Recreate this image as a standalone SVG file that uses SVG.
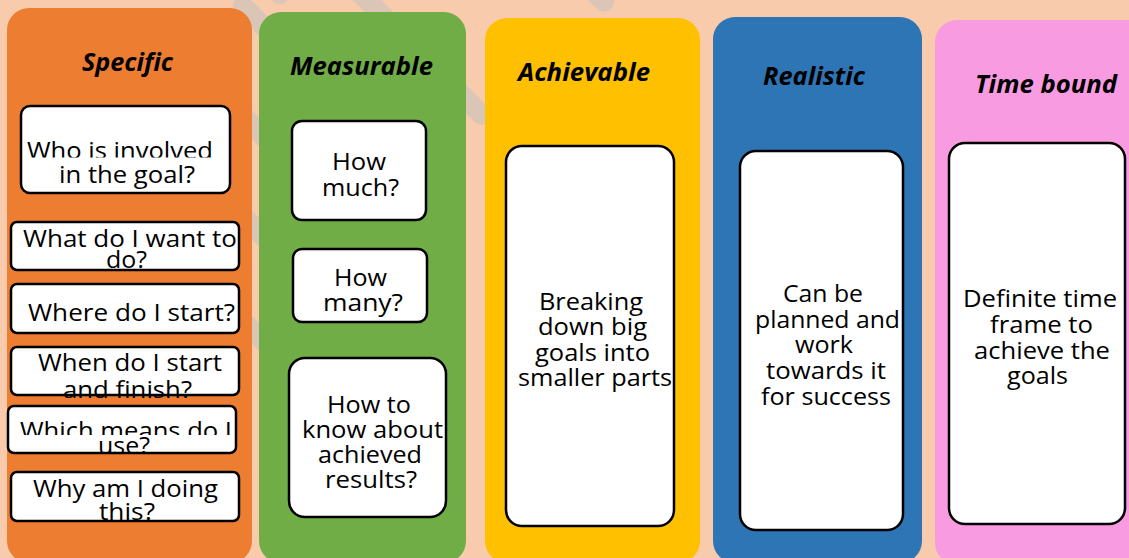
<svg xmlns="http://www.w3.org/2000/svg" width="1129" height="558" viewBox="0 0 1129 558">
<defs>
<style>
.bg{fill:#F8CBAD}
.wm{stroke:#DBC5B6;stroke-width:20;stroke-linecap:round;fill:none}
.col{stroke:none}
.box{fill:#FFFFFF;stroke:#000000;stroke-width:2.5}
.title{font-family:"Open Sans","Noto Sans","Liberation Sans",sans-serif;font-size:25.5px;font-weight:bold;font-style:italic;fill:#000;text-anchor:middle}
.t{font-family:"Open Sans","Noto Sans","Liberation Sans",sans-serif;font-size:24px;fill:#000;text-anchor:middle}
</style>
<clipPath id="cWho"><rect x="0" y="0" width="300" height="157.5"/></clipPath>
<clipPath id="cFinish"><rect x="0" y="300" width="300" height="98"/></clipPath>
<clipPath id="cWhich"><rect x="0" y="400" width="300" height="35"/></clipPath>
<clipPath id="cUse"><rect x="0" y="436" width="300" height="19"/></clipPath>
</defs>
<rect class="bg" x="0" y="0" width="1129" height="558"/>
<g id="watermark">
<line class="wm" x1="243" y1="6" x2="320" y2="83"/>
<line class="wm" x1="240" y1="-42" x2="280" y2="-6"/>
<line class="wm" x1="345" y1="-22" x2="482" y2="115"/>
<line class="wm" x1="560" y1="-42" x2="604" y2="2"/>
<line class="wm" x1="230" y1="103" x2="280" y2="153"/>
<line class="wm" x1="230" y1="203" x2="280" y2="253"/>
<line class="wm" x1="230" y1="308" x2="280" y2="358"/>
</g>
<g id="col-specific">
<rect class="col" x="7" y="8" width="245" height="555" rx="22" fill="#ED7D31"/>
<text class="title" x="127.5" y="71" textLength="91" lengthAdjust="spacingAndGlyphs">Specific</text>
</g>
<g id="col-measurable">
<rect class="col" x="259" y="12" width="207" height="551" rx="22" fill="#70AD47"/>
<text class="title" x="361.5" y="75" textLength="143" lengthAdjust="spacingAndGlyphs">Measurable</text>
</g>
<g id="col-achievable">
<rect class="col" x="485" y="18" width="215" height="545" rx="22" fill="#FFC000"/>
<text class="title" x="584" y="81" textLength="132" lengthAdjust="spacingAndGlyphs">Achievable</text>
</g>
<g id="col-realistic">
<rect class="col" x="713" y="17" width="209" height="546" rx="22" fill="#2E75B6"/>
<text class="title" x="814" y="85" textLength="102" lengthAdjust="spacingAndGlyphs">Realistic</text>
</g>
<g id="col-timebound">
<rect class="col" x="935" y="20" width="220" height="545" rx="22" fill="#F99BE0"/>
<text class="title" x="1046" y="93" textLength="142" lengthAdjust="spacingAndGlyphs">Time bound</text>
</g>
<g id="connectors"/>
<g id="s-who">
<rect class="box" x="21" y="106" width="209" height="87" rx="9"/>
<text class="t" x="120" y="159" textLength="186" lengthAdjust="spacingAndGlyphs" clip-path="url(#cWho)">Who is involved</text>
<text class="t" x="127" y="183" textLength="136" lengthAdjust="spacingAndGlyphs">in the goal?</text>
</g>
<g id="s-what">
<rect class="box" x="11" y="222" width="228" height="48" rx="6"/>
<text class="t" x="130" y="247" textLength="214" lengthAdjust="spacingAndGlyphs">What do I want to</text>
<text class="t" x="126.5" y="268" textLength="41" lengthAdjust="spacingAndGlyphs">do?</text>
</g>
<g id="s-where">
<rect class="box" x="11" y="284" width="228" height="49" rx="6"/>
<text class="t" x="131.5" y="321" textLength="207" lengthAdjust="spacingAndGlyphs">Where do I start?</text>
</g>
<g id="s-when">
<rect class="box" x="11" y="347" width="228" height="48" rx="6"/>
<text class="t" x="130" y="371" textLength="184" lengthAdjust="spacingAndGlyphs">When do I start</text>
<text class="t" x="127.5" y="398" textLength="129" lengthAdjust="spacingAndGlyphs" clip-path="url(#cFinish)">and finish?</text>
</g>
<g id="s-which">
<rect class="box" x="8" y="406" width="228" height="47" rx="6"/>
<text class="t" x="126" y="439" textLength="212" lengthAdjust="spacingAndGlyphs" clip-path="url(#cWhich)">Which means do I</text>
<text class="t" x="124" y="454" textLength="52" lengthAdjust="spacingAndGlyphs" clip-path="url(#cUse)">use?</text>
</g>
<g id="s-why">
<rect class="box" x="11" y="472" width="228" height="49" rx="6"/>
<text class="t" x="125.5" y="497" textLength="185" lengthAdjust="spacingAndGlyphs">Why am I doing</text>
<text class="t" x="127" y="520" textLength="56" lengthAdjust="spacingAndGlyphs">this?</text>
</g>
<g id="m-much">
<rect class="box" x="292" y="121" width="134" height="99" rx="10"/>
<text class="t" x="359" y="170" textLength="54" lengthAdjust="spacingAndGlyphs">How</text>
<text class="t" x="360.5" y="196" textLength="77" lengthAdjust="spacingAndGlyphs">much?</text>
</g>
<g id="m-many">
<rect class="box" x="293" y="249" width="134" height="73" rx="9"/>
<text class="t" x="360.5" y="286" textLength="53" lengthAdjust="spacingAndGlyphs">How</text>
<text class="t" x="363" y="311" textLength="80" lengthAdjust="spacingAndGlyphs">many?</text>
</g>
<g id="m-results">
<rect class="box" x="289" y="358" width="157" height="159" rx="16"/>
<text class="t" x="369" y="413" textLength="84" lengthAdjust="spacingAndGlyphs">How to</text>
<text class="t" x="372.5" y="438" textLength="141" lengthAdjust="spacingAndGlyphs">know about</text>
<text class="t" x="370" y="463" textLength="104" lengthAdjust="spacingAndGlyphs">achieved</text>
<text class="t" x="371" y="488" textLength="92" lengthAdjust="spacingAndGlyphs">results?</text>
</g>
<g id="a-box">
<rect class="box" x="506" y="146" width="168" height="380" rx="16"/>
<text class="t" x="591" y="310" textLength="104" lengthAdjust="spacingAndGlyphs">Breaking</text>
<text class="t" x="592.5" y="335" textLength="109" lengthAdjust="spacingAndGlyphs">down big</text>
<text class="t" x="592.5" y="361" textLength="115" lengthAdjust="spacingAndGlyphs">goals into</text>
<text class="t" x="595" y="386" textLength="154" lengthAdjust="spacingAndGlyphs">smaller parts</text>
</g>
<g id="r-box">
<rect class="box" x="740" y="151" width="163" height="379" rx="16"/>
<text class="t" x="823" y="302" textLength="80" lengthAdjust="spacingAndGlyphs">Can be</text>
<text class="t" x="827.5" y="328" textLength="145" lengthAdjust="spacingAndGlyphs">planned and</text>
<text class="t" x="824" y="353" textLength="58" lengthAdjust="spacingAndGlyphs">work</text>
<text class="t" x="826" y="379" textLength="120" lengthAdjust="spacingAndGlyphs">towards it</text>
<text class="t" x="826" y="405" textLength="130" lengthAdjust="spacingAndGlyphs">for success</text>
</g>
<g id="t-box">
<rect class="box" x="949" y="143" width="176" height="381" rx="16"/>
<text class="t" x="1040" y="307" textLength="154" lengthAdjust="spacingAndGlyphs">Definite time</text>
<text class="t" x="1041.5" y="333" textLength="103" lengthAdjust="spacingAndGlyphs">frame to</text>
<text class="t" x="1042" y="359" textLength="136" lengthAdjust="spacingAndGlyphs">achieve the</text>
<text class="t" x="1037.5" y="384" textLength="61" lengthAdjust="spacingAndGlyphs">goals</text>
</g>
</svg>
